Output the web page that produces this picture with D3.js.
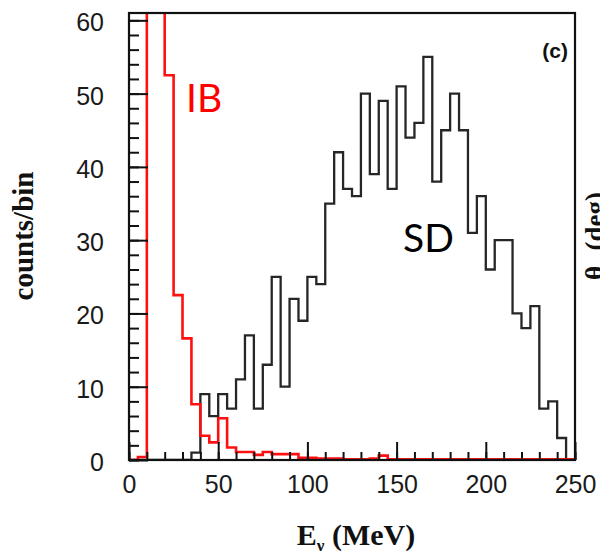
<!DOCTYPE html>
<html>
<head>
<meta charset="utf-8">
<script src="https://cdn.jsdelivr.net/npm/d3@7/dist/d3.min.js"></script>
<style>
  html, body { margin: 0; padding: 0; background: #fff; }
  svg { display: block; }
</style>
</head>
<body>
<svg id="chart" width="600" height="555"></svg>
<script>
// ---- data ----
const binWidth = 5;
const binStarts = d3.range(0, 250, 5);
// SD (black) counts per 5 MeV bin, 0..245
const sdCounts = [0,0,0,0,0,0,0,1,9,6,9,7,11,17,7,13,25,10,22,19,25,24,35,42,37,36,50,39,49,37,51,44,46,55,38,45,50,45,31,36,26,30,30,20,18,21,7,8,3,0];
// IB (red) counts per 5 MeV bin, 0..245 (bins 10-20 go off scale)
const ibCounts = [0,0.4,95,75,52.5,22.5,16.6,7.6,3.3,2.4,5.7,1.7,1.1,1.1,0.7,1.1,0.8,0.8,0.8,0.3,0.3,0.2,0.2,0.2,0.1,0.1,0.1,0.2,0.6,0.1,0.1,0.1,0.1,0.1,0.1,0.1,0.1,0.1,0.1,0.1,0.1,0.1,0.1,0.1,0.1,0.1,0.1,0.1,0.1,0.1];
const xMajor = [0, 50, 100, 150, 200, 250];
const xMinor = d3.range(0, 251, 10);
const yMajor = [0, 10, 20, 30, 40, 50, 60];
const yMinor = d3.range(0, 61, 2);

// ---- layout ----
const L = 129, R = 575, T = 13, B = 460;
const svg = d3.select("#chart");
const x = d3.scaleLinear().domain([0, 250]).range([L, R]);
const y = d3.scaleLinear().domain([0, 61]).range([B, T]);

svg.append("defs").append("clipPath").attr("id", "plotclip")
  .append("rect").attr("x", L).attr("y", T).attr("width", R - L).attr("height", B - T);

function stepPoints(counts) {
  const pts = [[0, 0]];
  counts.forEach((v, i) => {
    pts.push([binStarts[i], v]);
    pts.push([binStarts[i] + binWidth, v]);
  });
  pts.push([250, 0]);
  return pts;
}
const line = d3.line().x(d => x(d[0])).y(d => y(d[1]));

const plot = svg.append("g").attr("clip-path", "url(#plotclip)");
plot.append("path").attr("d", line(stepPoints(sdCounts)))
  .attr("fill", "none").attr("stroke", "#262626").attr("stroke-width", 2.3)
  .attr("stroke-linejoin", "miter");
plot.append("path").attr("d", line(stepPoints(ibCounts)))
  .attr("fill", "none").attr("stroke", "#ff1010").attr("stroke-width", 2.6)
  .attr("stroke-linejoin", "miter");

// ---- axes ----
const tickFont = "'Liberation Sans', Arial, sans-serif";
const gxMinor = svg.append("g").attr("transform", `translate(0,${B})`)
  .call(d3.axisBottom(x).tickValues(xMinor).tickSize(-8).tickFormat(""));
const gx = svg.append("g").attr("transform", `translate(0,${B})`)
  .call(d3.axisBottom(x).tickValues(xMajor).tickSize(-18).tickPadding(15));
const gyMinor = svg.append("g").attr("transform", `translate(${L},0)`)
  .call(d3.axisLeft(y).tickValues(yMinor).tickSize(-10).tickFormat(""));
const gy = svg.append("g").attr("transform", `translate(${L},0)`)
  .call(d3.axisLeft(y).tickValues(yMajor).tickSize(-19).tickPadding(25));
[gxMinor, gx, gyMinor, gy].forEach(g => {
  g.select(".domain").remove();
  g.selectAll(".tick line").attr("stroke", "#111").attr("stroke-width", 2);
  g.selectAll("text").attr("font-family", tickFont).attr("font-size", 25).attr("fill", "#1a1a1a");
});
gy.selectAll("text").attr("dy", "0.42em");

// frame
svg.append("rect").attr("x", L).attr("y", T).attr("width", R - L).attr("height", B - T)
  .attr("fill", "none").attr("stroke", "#111").attr("stroke-width", 2.2);

// ---- titles ----
const serif = "'Liberation Serif', 'Times New Roman', serif";
svg.append("text").attr("transform", "translate(33,236) rotate(-90)")
  .attr("text-anchor", "middle").attr("font-family", serif).attr("font-weight", "bold")
  .attr("font-size", 29).attr("fill", "#111").text("counts/bin");

const xt = svg.append("text").attr("x", 356).attr("y", 545)
  .attr("text-anchor", "middle").attr("font-family", serif).attr("font-weight", "bold")
  .attr("font-size", 30).attr("fill", "#111");
xt.append("tspan").text("E");
xt.append("tspan").attr("font-size", 17).attr("dy", 6).text("ν");
xt.append("tspan").attr("dy", -6).text(" (MeV)");

const rt = svg.append("text").attr("transform", "translate(604,236) rotate(-90)")
  .attr("text-anchor", "middle").attr("font-family", serif).attr("font-weight", "bold")
  .attr("font-size", 27).attr("fill", "#111");
rt.append("tspan").text("θ");
rt.append("tspan").attr("font-size", 15).attr("dy", 6).text("μ");
rt.append("tspan").attr("dy", -6).text(" (deg)");

svg.append("text").attr("x", 568).attr("y", 58).attr("text-anchor", "end")
  .attr("font-family", tickFont).attr("font-weight", "bold")
  .attr("font-size", 21).attr("fill", "#111").text("(c)");

// ---- annotations ----
const calib = "Lato, 'Open Sans', sans-serif";
svg.append("text").attr("x", 186).attr("y", 112)
  .attr("font-family", calib).attr("font-size", 39).attr("fill", "#ff0000").text("IB");
svg.append("text").attr("x", 403).attr("y", 252)
  .attr("font-family", calib).attr("font-size", 39).attr("fill", "#000").text("SD");
</script>
</body>
</html>
